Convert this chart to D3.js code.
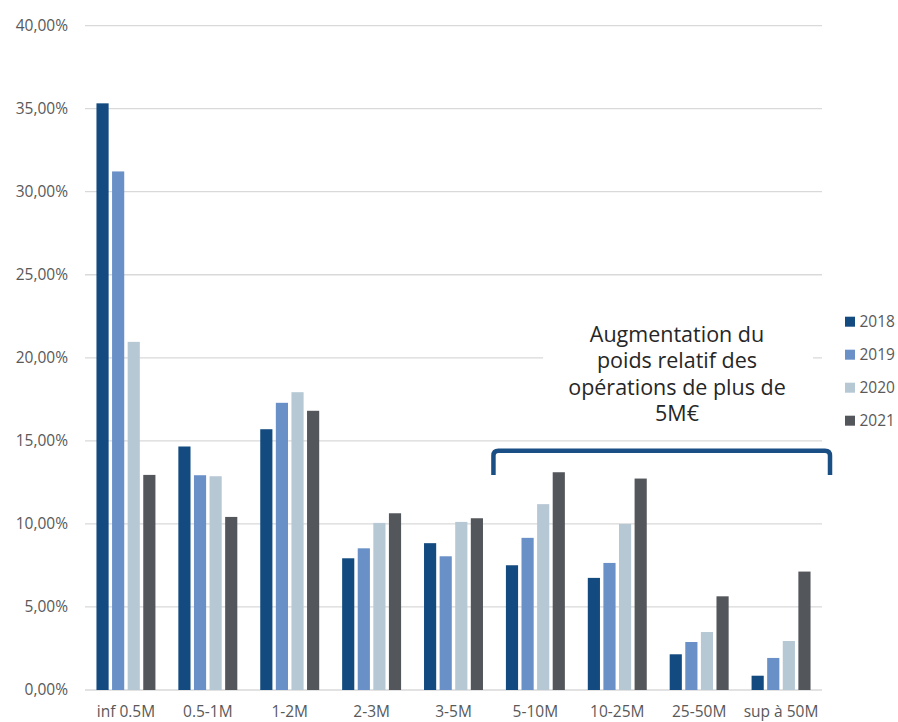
<!DOCTYPE html>
<html>
<head>
<meta charset="utf-8">
<script src="https://cdn.jsdelivr.net/npm/d3@7"></script>
<style>
  html, body { margin: 0; padding: 0; background: #ffffff; }
  svg { display: block; font-family: "Open Sans", "Noto Sans", sans-serif; }
</style>
</head>
<body>
<svg id="chart" width="898" height="722"></svg>
<script>
// Ticket-size buckets and yearly share of operations (%)
const categories = ["inf 0.5M", "0.5-1M", "1-2M", "2-3M", "3-5M", "5-10M", "10-25M", "25-50M", "sup à 50M"];
const years = ["2018", "2019", "2020", "2021"];
const values2018 = [35.32, 14.66, 15.70, 7.93, 8.84, 7.51, 6.75, 2.15, 0.86];
const values2019 = [31.22, 12.93, 17.29, 8.53, 8.05, 9.16, 7.65, 2.89, 1.93];
const values2020 = [20.96, 12.87, 17.93, 10.06, 10.12, 11.19, 10.00, 3.49, 2.95];
const values2021 = [12.95, 10.42, 16.81, 10.64, 10.34, 13.11, 12.73, 5.64, 7.13];
const yTicks = [0, 5, 10, 15, 20, 25, 30, 35, 40];
const annotationLines = ["Augmentation du", "poids relatif des", "opérations de plus de", "5M€"];
const bracketFrom = "5-10M";

const seriesValues = [values2018, values2019, values2020, values2021];
const colors = ["#134b80", "#6990c7", "#b7c8d5", "#53565b"];

const svg = d3.select("#chart");
const plot = { left: 85, right: 822, top: 25.6, bottom: 690 };

const x = d3.scaleBand().domain(categories).range([plot.left, plot.right])
  .paddingInner(0.28).paddingOuter(0.14);
const xInner = d3.scaleBand().domain(years).range([0, x.bandwidth()]).paddingInner(0.22);
const y = d3.scaleLinear().domain([0, 40]).range([plot.bottom, plot.top]);

const frLocale = d3.formatLocale({ decimal: ",", thousands: " ", grouping: [3], currency: ["", " €"] });
const fmt = frLocale.format(".2f");

// Horizontal gridlines
svg.append("g").selectAll("line").data(yTicks).join("line")
  .attr("x1", plot.left).attr("x2", plot.right)
  .attr("y1", d => y(d)).attr("y2", d => y(d))
  .attr("stroke", "#d9d9d9").attr("stroke-width", 1.3);

// Y axis labels
const yAxis = svg.append("g").attr("transform", `translate(${plot.left - 17},0)`)
  .call(d3.axisLeft(y).tickValues(yTicks).tickFormat(d => fmt(d) + "%").tickSize(0).tickPadding(0));
yAxis.select(".domain").remove();
yAxis.selectAll("text").attr("font-size", 15.5).attr("fill", "#595959")
  .attr("font-family", "'Open Sans', sans-serif");

// X axis labels
const xAxis = svg.append("g").attr("transform", `translate(0,${plot.bottom})`)
  .call(d3.axisBottom(x).tickSize(0).tickPadding(0));
xAxis.select(".domain").remove();
xAxis.selectAll("text").attr("font-size", 15.5).attr("fill", "#595959")
  .attr("font-family", "'Open Sans', sans-serif").attr("dy", null).attr("y", 27);

// Bars
const rows = categories.map((c, i) => ({ cat: c, vals: years.map((yr, k) => ({ year: yr, k, v: seriesValues[k][i] })) }));
const groups = svg.append("g").selectAll("g").data(rows).join("g")
  .attr("transform", d => `translate(${x(d.cat)},0)`);
groups.selectAll("rect").data(d => d.vals).join("rect")
  .attr("x", d => xInner(d.year))
  .attr("width", xInner.bandwidth())
  .attr("y", d => y(d.v))
  .attr("height", d => y(0) - y(d.v))
  .attr("fill", d => colors[d.k]);

// Annotation text with white backdrop
const textCx = 677;
const lineH = 26.5;
const firstBase = 341.5;
svg.append("rect")
  .attr("x", 543).attr("y", firstBase - 22).attr("width", 270).attr("height", lineH * 4 + 2)
  .attr("fill", "#ffffff");
svg.append("g").selectAll("text").data(annotationLines).join("text")
  .attr("x", textCx).attr("y", (d, i) => firstBase + i * lineH)
  .attr("text-anchor", "middle").attr("font-size", 21.5).attr("fill", "#262626")
  .text(d => d);

// Bracket spanning the larger ticket sizes
const bx0 = x(bracketFrom) - x.step() * x.paddingInner() / 2 - 1;
const bx1 = plot.right + 8;
const by = 450.8, byEnd = 475, r = 5;
svg.append("path")
  .attr("d", `M${bx0},${byEnd} L${bx0},${by + r} Q${bx0},${by} ${bx0 + r},${by} L${bx1 - r},${by} Q${bx1},${by} ${bx1},${by + r} L${bx1},${byEnd}`)
  .attr("fill", "none").attr("stroke", "#1a4f86").attr("stroke-width", 4.5);

// Legend
const legend = svg.append("g").selectAll("g").data(years).join("g")
  .attr("transform", (d, i) => `translate(845,${321.7 + i * 33})`);
legend.append("rect").attr("x", 0).attr("y", -5).attr("width", 10).attr("height", 10)
  .attr("fill", (d, i) => colors[i]);
legend.append("text").attr("x", 14.5).attr("y", 0).attr("dy", "0.36em")
  .attr("font-size", 15.5).attr("fill", "#595959").text(d => d);
</script>
</body>
</html>
